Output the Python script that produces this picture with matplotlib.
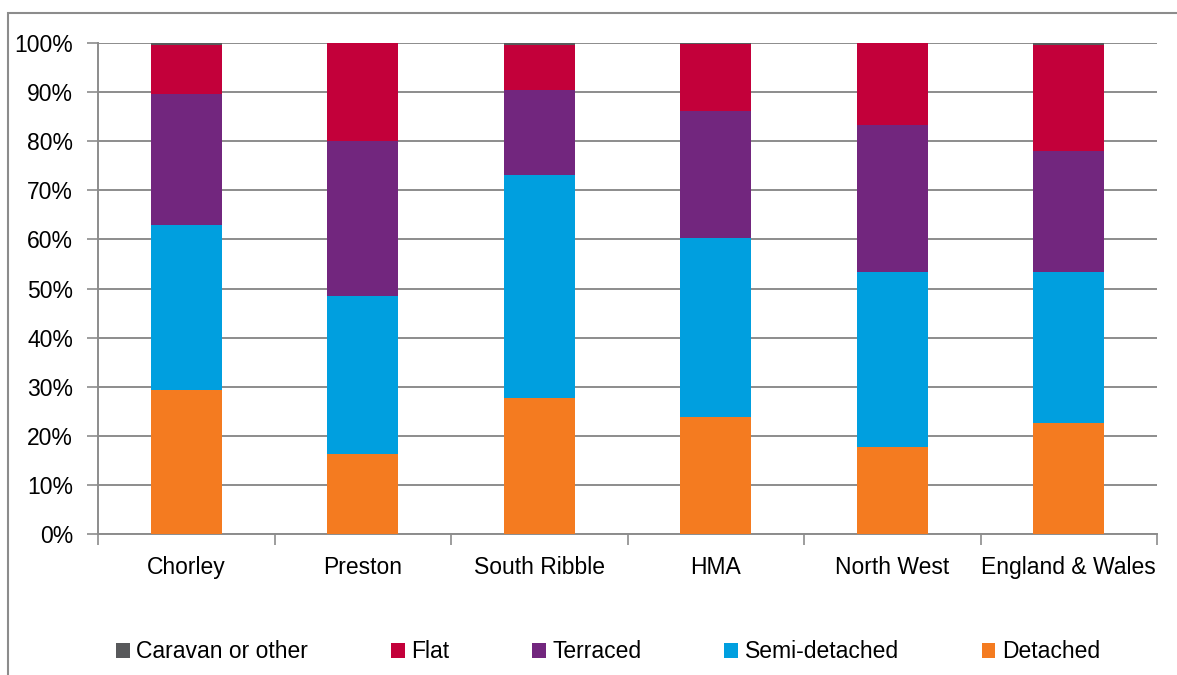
import matplotlib
matplotlib.use('Agg')
import matplotlib.pyplot as plt
import numpy as np
from matplotlib.patches import Rectangle
from matplotlib.ticker import FuncFormatter, FixedLocator

plt.rcParams['font.family'] = ['Liberation Sans Narrow', 'Liberation Sans', 'DejaVu Sans']

areas = ['Chorley', 'Preston', 'South Ribble', 'HMA', 'North West', 'England & Wales']

# shares of dwellings, per cent
detached = [29.4, 16.3, 27.8, 23.9, 17.7, 22.7]
semi_detached = [33.5, 32.1, 45.3, 36.4, 35.7, 30.6]
terraced = [26.8, 31.6, 17.4, 25.8, 30.0, 24.7]
flat = [9.9, 19.9, 9.1, 13.7, 16.5, 21.6]
caravan = [0.4, 0.1, 0.4, 0.2, 0.1, 0.4]

series = [
    ('Detached', detached, '#F47B20'),
    ('Semi-detached', semi_detached, '#009FDF'),
    ('Terraced', terraced, '#72267E'),
    ('Flat', flat, '#C3003A'),
    ('Caravan or other', caravan, '#58595B'),
]

FS = 16.5
W, H = 1177, 675
fig = plt.figure(figsize=(W/100, H/100), dpi=100)
ax = fig.add_axes([98/W, 1 - 534/H, (1157 - 98)/W, (534 - 43)/H])

x = np.arange(len(areas))
bottom = np.zeros(len(areas))
handles = {}
for name, vals, col in series:
    b = ax.bar(x, vals, bottom=bottom, width=0.40, color=col, label=name,
               edgecolor='none', zorder=3)
    handles[name] = b
    bottom += np.array(vals)

ax.set_xlim(-0.5, len(areas) - 0.5)
ax.set_ylim(0, 100)
ax.set_yticks(np.arange(0, 101, 10))
ax.yaxis.set_major_formatter(FuncFormatter(lambda v, p: '%d%%' % v))
ax.yaxis.grid(True, color='#8c8c8c', linewidth=1.4, zorder=0)
ax.set_axisbelow(True)

# labels in the middle, ticks at category boundaries
ax.set_xticks(x)
ax.set_xticklabels(areas)
ax.xaxis.set_minor_locator(FixedLocator(np.arange(-0.5, len(areas), 1.0)))
ax.tick_params(axis='x', which='major', length=0, pad=16, labelsize=FS)
ax.tick_params(axis='x', which='minor', length=8, width=1.2, color='#8c8c8c')
ax.tick_params(axis='y', which='major', length=8, width=1.2, color='#8c8c8c',
               pad=10, labelsize=FS)

for side in ['top', 'right']:
    ax.spines[side].set_visible(False)
for side in ['left', 'bottom']:
    ax.spines[side].set_color('#8c8c8c')
    ax.spines[side].set_linewidth(1.4)

# outer chart frame (cut off at right and bottom)
fig.patches.append(Rectangle((8/W, -0.1), 1.2, (H - 13)/H + 0.1,
                             transform=fig.transFigure, fill=False,
                             edgecolor='#8c8c8c', linewidth=1.5))

order = ['Caravan or other', 'Flat', 'Terraced', 'Semi-detached', 'Detached']
fig.legend([handles[n] for n in order], order, loc='center',
           bbox_to_anchor=(608/W, 1 - 652/H), ncol=5, frameon=False,
           fontsize=FS, handlelength=0.6, handleheight=0.6,
           handletextpad=0.3, columnspacing=3.6)

fig.savefig('out.png', dpi=100)
